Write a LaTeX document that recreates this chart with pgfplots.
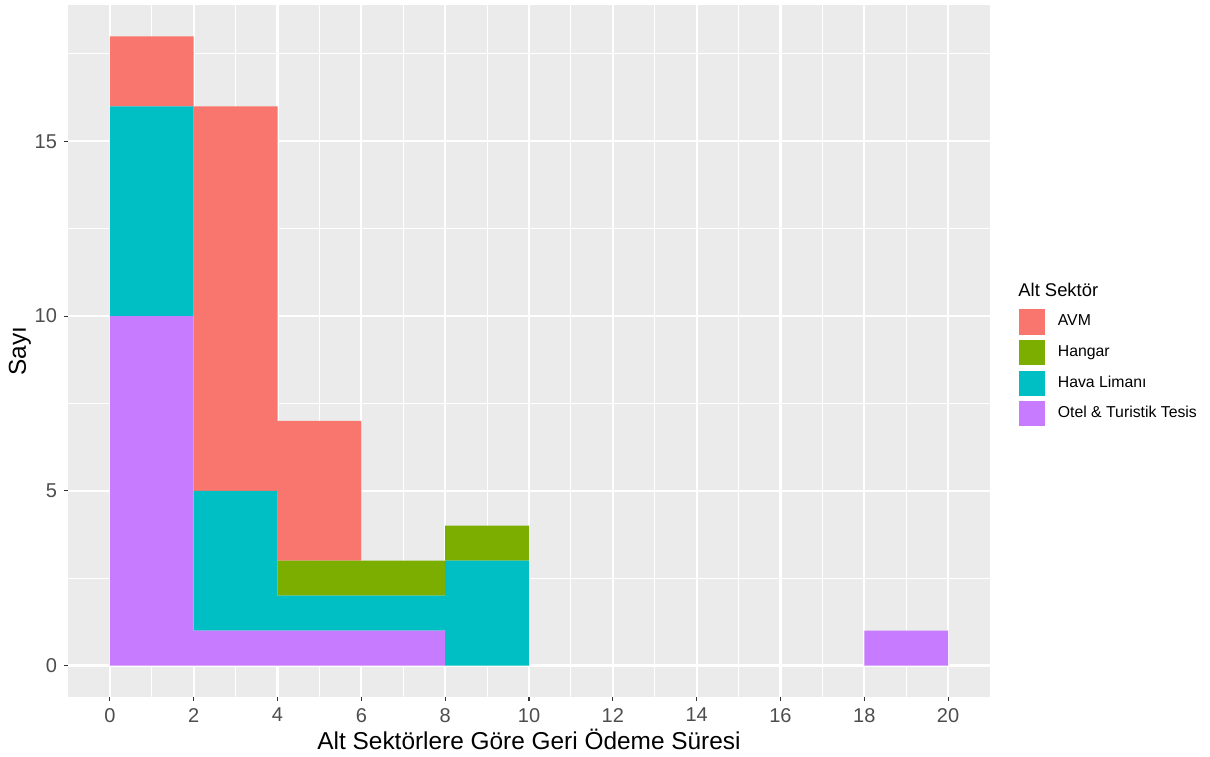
\documentclass[border=0pt]{standalone}
\usepackage{pgfplots}
\pgfplotsset{compat=1.18}
\usepackage{fontspec}
\setmainfont{Liberation Sans}
\definecolor{cAVM}{HTML}{F8766D}
\definecolor{cHangar}{HTML}{7CAE00}
\definecolor{cHava}{HTML}{00BFC4}
\definecolor{cOtel}{HTML}{C77CFF}
\definecolor{panelbg}{HTML}{EBEBEB}
\definecolor{ticklab}{HTML}{4D4D4D}
\definecolor{tickcol}{HTML}{333333}
\begin{document}
\begin{tikzpicture}
\path[use as bounding box] (0,0) rectangle (605pt,378pt);
\begin{axis}[
  at={(34pt,29.5pt)}, anchor=south west,
  scale only axis, width=461pt, height=346pt,
  xmin=-1, xmax=21, ymin=-0.9, ymax=18.9,
  ybar stacked, bar width=2, bar shift=0pt,
  xtick={0,2,...,20}, ytick={0,5,10,15},
  minor xtick={1,3,...,19}, minor ytick={2.5,7.5,12.5,17.5},
  grid=both,
  major grid style={white, line width=1.1pt},
  minor grid style={white, line width=0.55pt},
  axis line style={draw=none},
  axis background/.style={fill=panelbg},
  tick align=outside,
  major tick length=2pt, minor tick length=0pt,
  tick style={tickcol, line width=0.55pt},
  xtick pos=bottom, ytick pos=left,
  tick label style={font=\fontsize{10}{12}\selectfont, text=ticklab},
  /pgf/number format/assume math mode=true,
  xlabel={Alt Sektörlere Göre Geri Ödeme Süresi},
  ylabel={Sayı},
  label style={font=\fontsize{12.2}{14}\selectfont},
  xlabel style={yshift=3.5pt},
  ylabel style={yshift=-5pt},
  reverse legend=true,
  legend cell align=left,
  legend style={at={(1.030,0.562)}, anchor=north west, draw=none, fill=none,
    inner sep=0pt, outer sep=0pt, row sep=1.5pt,
    nodes={inner xsep=6pt},
    font=\fontsize{7.9}{9}\selectfont},
  legend image code/.code={\draw[#1,draw=white,line width=0.6pt] (-1pt,-6.6pt) rectangle (12.5pt,6.6pt);},
]
\addplot[fill=cOtel, draw=none] coordinates {(1,10) (3,1) (5,1) (7,1) (9,0) (11,0) (13,0) (15,0) (17,0) (19,1)};
\addlegendentry{Otel \& Turistik Tesis}
\addplot[fill=cHava, draw=none] coordinates {(1,6) (3,4) (5,1) (7,1) (9,3) (11,0) (13,0) (15,0) (17,0) (19,0)};
\addlegendentry{Hava Limanı}
\addplot[fill=cHangar, draw=none] coordinates {(1,0) (3,0) (5,1) (7,1) (9,1) (11,0) (13,0) (15,0) (17,0) (19,0)};
\addlegendentry{Hangar}
\addplot[fill=cAVM, draw=none] coordinates {(1,2) (3,11) (5,4) (7,0) (9,0) (11,0) (13,0) (15,0) (17,0) (19,0)};
\addlegendentry{AVM}
\end{axis}
\node[anchor=base west, inner sep=0pt, font=\fontsize{9.2}{11}\selectfont] at (509pt,229.5pt) {Alt Sektör};
\end{tikzpicture}
\end{document}
